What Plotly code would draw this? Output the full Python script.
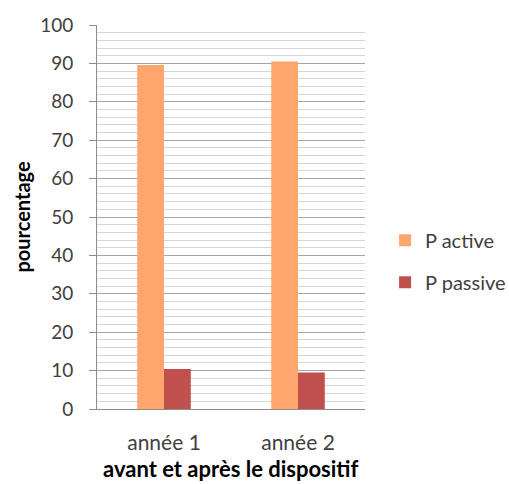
import plotly.graph_objects as go

categories = ["année 1", "année 2"]
p_active = [89.6, 90.5]
p_passive = [10.4, 9.5]
y_ticks = [0, 10, 20, 30, 40, 50, 60, 70, 80, 90, 100]

FONT = "Lato, 'Open Sans', sans-serif"

fig = go.Figure()
fig.add_trace(go.Bar(name="P active", x=categories, y=p_active,
                     marker=dict(color="#FFA66F", line=dict(width=0)),
                     legendgroup="a"))
fig.add_trace(go.Bar(name="P passive", x=categories, y=p_passive,
                     marker=dict(color="#C0504D", line=dict(width=0)),
                     legendgroup="b"))

fig.update_layout(
    width=509, height=484,
    margin=dict(l=97, r=144, t=25, b=75, autoexpand=False),
    paper_bgcolor="white", plot_bgcolor="white",
    barmode="group", bargap=0.6, bargroupgap=0,
    font=dict(family=FONT, color="#404040"),
    showlegend=True,
    legend=dict(x=1.075, y=0.385, xanchor="left", yanchor="middle",
                font=dict(size=20, color="#404040"),
                tracegroupgap=13, itemwidth=30, bgcolor="rgba(0,0,0,0)"),
    xaxis=dict(
        automargin=False,
        showline=True, linecolor="#8c8c8c", linewidth=1,
        ticks="", tickfont=dict(size=21, color="#404040"),
        ticklabelstandoff=15,
    ),
    yaxis=dict(
        automargin=False,
        range=[0, 100], tickvals=y_ticks,
        showline=True, linecolor="#8c8c8c", linewidth=1,
        ticks="outside", ticklen=7, tickcolor="#8c8c8c",
        ticklabelstandoff=12,
        showgrid=True, gridcolor="#a6a6a6", gridwidth=1,
        minor=dict(dtick=2, showgrid=True, gridcolor="#d6d6d6", gridwidth=1),
        tickfont=dict(size=19, color="#404040"),
        zeroline=False,
        title=dict(text="<b>pourcentage</b>", font=dict(size=20, color="#000000"), standoff=4),
    ),
    annotations=[dict(
        text="<b>avant et après le dispositif</b>",
        xref="paper", yref="paper", x=0.5, y=0,
        xanchor="center", yanchor="middle", yshift=-59,
        showarrow=False, font=dict(size=22, color="#000000", family=FONT),
    )],
)

fig.write_html("out.html", config={"displayModeBar": False},
               post_script="document.body.style.margin='0';document.body.style.overflow='hidden';")
